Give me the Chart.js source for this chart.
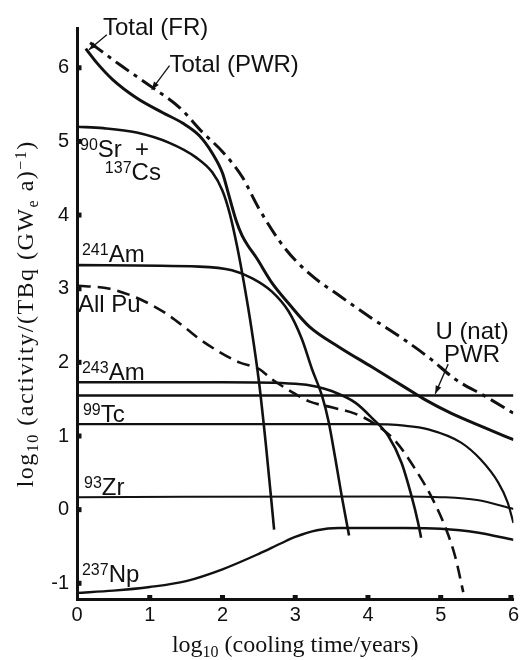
<!DOCTYPE html>
<html><head><meta charset="utf-8">
<script src="https://cdn.jsdelivr.net/npm/chart.js@4/dist/chart.umd.min.js"></script>
<style>html,body{margin:0;padding:0;background:#fff;}canvas{display:block;}</style>
</head><body>
<canvas id="c" width="523" height="660"></canvas>
<script>
// ---- tick values / labels ----
const xTicks = [0, 1, 2, 3, 4, 5, 6];
const yTicks = [-1, 0, 1, 2, 3, 4, 5, 6];
const xTickLabels = ['0', '1', '2', '3', '4', '5', '6'];
const yTickLabels = ['-1', '0', '1', '2', '3', '4', '5', '6'];

// ---- series (x = log10 cooling time, y = log10 activity) ----
const totalFR_x = [0.12, 0.27, 0.49, 0.82, 1.18, 1.45, 1.68, 1.86, 2.0, 2.09, 2.19, 2.27, 2.36, 2.46, 2.68, 2.91, 3.19, 3.6, 4.05, 4.51, 4.79, 5.14, 5.61, 6.0];
const totalFR_y = [6.26, 6.07, 5.84, 5.59, 5.39, 5.25, 5.08, 4.84, 4.57, 4.26, 3.92, 3.72, 3.57, 3.43, 3.08, 2.80, 2.49, 2.21, 1.94, 1.66, 1.49, 1.31, 1.11, 0.95];

const totalPWR_x = [0.18, 0.59, 1.04, 1.41, 1.72, 2.0, 2.27, 2.5, 2.85, 3.2, 3.6, 4.05, 4.51, 4.87, 5.2, 5.61, 6.0];
const totalPWR_y = [6.34, 6.04, 5.73, 5.46, 5.13, 4.86, 4.52, 4.09, 3.56, 3.20, 2.91, 2.60, 2.30, 2.04, 1.77, 1.54, 1.31];

const srcs_x = [0, 0.36, 0.82, 1.27, 1.64, 1.86, 2.0, 2.1, 2.2, 2.3, 2.4, 2.5, 2.6, 2.71];
const srcs_y = [5.20, 5.18, 5.12, 4.98, 4.78, 4.58, 4.33, 4.02, 3.58, 3.05, 2.45, 1.75, 0.85, -0.27];

const am241_x = [0, 1.68, 2.13, 2.41, 2.68, 2.91, 3.09, 3.23, 3.37, 3.46, 3.55, 3.64, 3.74];
const am241_y = [3.32, 3.30, 3.25, 3.14, 2.96, 2.69, 2.32, 1.91, 1.54, 1.19, 0.70, 0.18, -0.35];

const pu_x = [0.01, 0.45, 0.86, 1.23, 1.5, 1.68, 1.96, 2.23, 2.5, 2.68, 2.95, 3.19, 3.5, 3.83, 4.1, 4.38, 4.65, 4.87, 5.06, 5.2, 5.31];
const pu_y = [3.04, 3.0, 2.86, 2.66, 2.46, 2.32, 2.14, 2.0, 1.91, 1.77, 1.6, 1.47, 1.39, 1.30, 1.16, 0.93, 0.55, 0.18, -0.23, -0.64, -1.12];

const am243_x = [0, 2.0, 3.0, 3.3, 3.5, 3.83, 4.05, 4.28, 4.46, 4.6, 4.69, 4.73];
const am243_y = [1.73, 1.73, 1.71, 1.67, 1.61, 1.45, 1.25, 1.0, 0.64, 0.18, -0.18, -0.38];

const unat_x = [0, 6];
const unat_y = [1.55, 1.55];

const tc99_x = [0, 4.0, 4.5, 4.83, 5.28, 5.55, 5.79, 5.92, 6.0];
const tc99_y = [1.16, 1.16, 1.14, 1.09, 0.91, 0.68, 0.37, 0.10, -0.18];

const zr93_x = [0, 4.5, 5.0, 5.5, 6.0];
const zr93_y = [0.17, 0.18, 0.17, 0.13, 0.01];

const np237_x = [0, 0.5, 1.0, 1.5, 2.0, 2.5, 2.8, 3.0, 3.3, 3.6, 4.0, 4.5, 5.0, 5.5, 6.0];
const np237_y = [-1.13, -1.10, -1.05, -0.97, -0.81, -0.60, -0.46, -0.37, -0.28, -0.25, -0.25, -0.25, -0.26, -0.31, -0.41];

// ---- styles ----
const SANS = '"Liberation Sans", Arial, Helvetica, sans-serif';
const SERIF = '"Liberation Serif", "Times New Roman", Times, serif';
const INK = '#111';

function pts(xs, ys) { return xs.map((x, i) => ({ x: x, y: ys[i] })); }
function ds(label, xs, ys, w, dash) {
  return {
    label: label, data: pts(xs, ys), borderColor: INK, borderWidth: w,
    borderDash: dash || [], pointRadius: 0, fill: false,
    cubicInterpolationMode: 'monotone', borderCapStyle: 'butt', borderJoinStyle: 'round'
  };
}

// ---- annotation texts (positions in data units) ----
const annotations = [
  { runs: [['Total (FR)', '']], x: 0.356, y: 6.45 },
  { runs: [['Total (PWR)', '']], x: 1.272, y: 5.946 },
  { runs: [['90', 'sup'], ['Sr', ''], ['  +', '']], x: 0.041, y: 4.79 },
  { runs: [['137', 'sup'], ['Cs', '']], x: 0.383, y: 4.477 },
  { runs: [['241', 'sup'], ['Am', '']], x: 0.068, y: 3.363 },
  { runs: [['All Pu', '']], x: 0.014, y: 2.683 },
  { runs: [['243', 'sup'], ['Am', '']], x: 0.068, y: 1.759 },
  { runs: [['99', 'sup'], ['Tc', '']], x: 0.082, y: 1.188 },
  { runs: [['93', 'sup'], ['Zr', '']], x: 0.096, y: 0.196 },
  { runs: [['237', 'sup'], ['Np', '']], x: 0.068, y: -0.987 },
  { runs: [['U (nat)', '']], x: 5.431, y: 2.317, align: 'center' },
  { runs: [['PWR', '']], x: 5.431, y: 2.004, align: 'center' }
];
const leaders = [
  { from: [0.41, 6.45], to: [0.164, 6.245] },
  { from: [1.272, 6.028], to: [1.026, 5.702] },
  { from: [5.103, 1.976], to: [4.925, 1.575] }
];

function runFont(mode, base, fam) {
  const s = mode ? Math.round(base * 0.66) : base;
  return s + 'px ' + fam;
}
function runsWidth(ctx, runs, base, fam, spacing) {
  let w = 0;
  for (const [t, m] of runs) {
    ctx.font = runFont(m, base, fam);
    w += ctx.measureText(t).width + spacing * t.length;
  }
  return w;
}
function drawRuns(ctx, runs, x, y, base, fam, align, spacing) {
  spacing = spacing || 0;
  const w = runsWidth(ctx, runs, base, fam, spacing);
  let cx = align === 'center' ? x - w / 2 : x;
  ctx.textBaseline = 'alphabetic';
  ctx.textAlign = 'left';
  for (const [t, m] of runs) {
    ctx.font = runFont(m, base, fam);
    const dy = m === 'sup' ? -base * 0.30 : (m === 'sub' ? base * 0.22 : 0);
    if (spacing) {
      for (const ch of t) {
        ctx.fillText(ch, cx, y + dy);
        cx += ctx.measureText(ch).width + spacing;
      }
    } else {
      ctx.fillText(t, cx, y + dy);
      cx += ctx.measureText(t).width;
    }
  }
}

const decor = {
  id: 'decor',
  afterDatasetsDraw(chart) {
    const ctx = chart.ctx;
    const xs = chart.scales.x, ys = chart.scales.y, ca = chart.chartArea;
    ctx.save();
    ctx.fillStyle = INK;
    // inner square tick marks
    for (const v of yTicks) {
      const py = ys.getPixelForValue(v);
      ctx.fillRect(ca.left, py - 2.5, 4.5, 5);
    }
    for (const v of xTicks) {
      if (v === 0) continue;
      const px = xs.getPixelForValue(v);
      ctx.fillRect(Math.min(px - 2.5, ca.right - 5), ca.bottom - 4.5, 5, 4.5);
    }
    // labels
    for (const a of annotations) {
      drawRuns(ctx, a.runs, xs.getPixelForValue(a.x), ys.getPixelForValue(a.y), 24, SANS, a.align || 'left');
    }
    // leader lines with arrowheads
    ctx.strokeStyle = INK;
    ctx.lineWidth = 1.3;
    for (const l of leaders) {
      const x1 = xs.getPixelForValue(l.from[0]), y1 = ys.getPixelForValue(l.from[1]);
      const x2 = xs.getPixelForValue(l.to[0]), y2 = ys.getPixelForValue(l.to[1]);
      ctx.beginPath(); ctx.moveTo(x1, y1); ctx.lineTo(x2, y2); ctx.stroke();
      const ang = Math.atan2(y2 - y1, x2 - x1), L = 8, W = 3;
      ctx.beginPath();
      ctx.moveTo(x2, y2);
      ctx.lineTo(x2 - L * Math.cos(ang) + W * Math.sin(ang), y2 - L * Math.sin(ang) - W * Math.cos(ang));
      ctx.lineTo(x2 - L * Math.cos(ang) - W * Math.sin(ang), y2 - L * Math.sin(ang) + W * Math.cos(ang));
      ctx.closePath(); ctx.fill();
    }
    // axis titles
    const cxMid = (ca.left + ca.right) / 2;
    drawRuns(ctx, [['log', ''], ['10', 'sub'], [' (cooling time/years)', '']], cxMid, 652, 24, SERIF, 'center');
    ctx.save();
    ctx.translate(33, (ca.top + ca.bottom) / 2);
    ctx.rotate(-Math.PI / 2);
    drawRuns(ctx, [['log', ''], ['10', 'sub'], [' (activity/(TBq (GW', ''], ['e', 'sub'], [' a)', ''], ['\u22121', 'sup'], [')', '']], 0, 0, 24, SERIF, 'center', 1.5);
    ctx.restore();
    ctx.restore();
  }
};

new Chart(document.getElementById('c'), {
  type: 'line',
  data: {
    datasets: [
      ds('Total (FR)', totalFR_x, totalFR_y, 3),
      ds('Total (PWR)', totalPWR_x, totalPWR_y, 3, [16, 6, 4, 6]),
      ds('90Sr + 137Cs', srcs_x, srcs_y, 2.6),
      ds('241Am', am241_x, am241_y, 2.6),
      ds('All Pu', pu_x, pu_y, 2.6, [13, 7]),
      ds('243Am', am243_x, am243_y, 2.6),
      ds('U (nat) PWR', unat_x, unat_y, 2.6),
      ds('99Tc', tc99_x, tc99_y, 2.2),
      ds('93Zr', zr93_x, zr93_y, 2),
      ds('237Np', np237_x, np237_y, 2.4)
    ]
  },
  options: {
    responsive: false,
    animation: false,
    events: [],
    layout: { padding: { left: 0, top: 28, right: 7, bottom: 0 } },
    plugins: { legend: { display: false }, tooltip: { enabled: false }, title: { display: false } },
    scales: {
      x: {
        type: 'linear', min: 0, max: 6,
        grid: { display: false, drawTicks: false },
        border: { display: true, width: 3, color: INK },
        afterBuildTicks: s => { s.ticks = xTicks.map(v => ({ value: v })); },
        afterFit: s => { s.height = 60.5; },
        ticks: {
          padding: 4, color: INK, maxRotation: 0, autoSkip: false,
          font: { family: SANS, size: 20 },
          callback: (v) => xTickLabels[xTicks.indexOf(v)]
        }
      },
      y: {
        type: 'linear', min: -1.22, max: 6.54,
        grid: { display: false, drawTicks: false },
        border: { display: true, width: 3, color: INK },
        afterBuildTicks: s => { s.ticks = yTicks.map(v => ({ value: v })); },
        afterFit: s => { s.width = 77; },
        ticks: {
          padding: 8, color: INK, autoSkip: false,
          font: { family: SANS, size: 20 },
          callback: (v) => yTickLabels[yTicks.indexOf(v)]
        }
      }
    }
  },
  plugins: [decor]
});
</script>
</body></html>
